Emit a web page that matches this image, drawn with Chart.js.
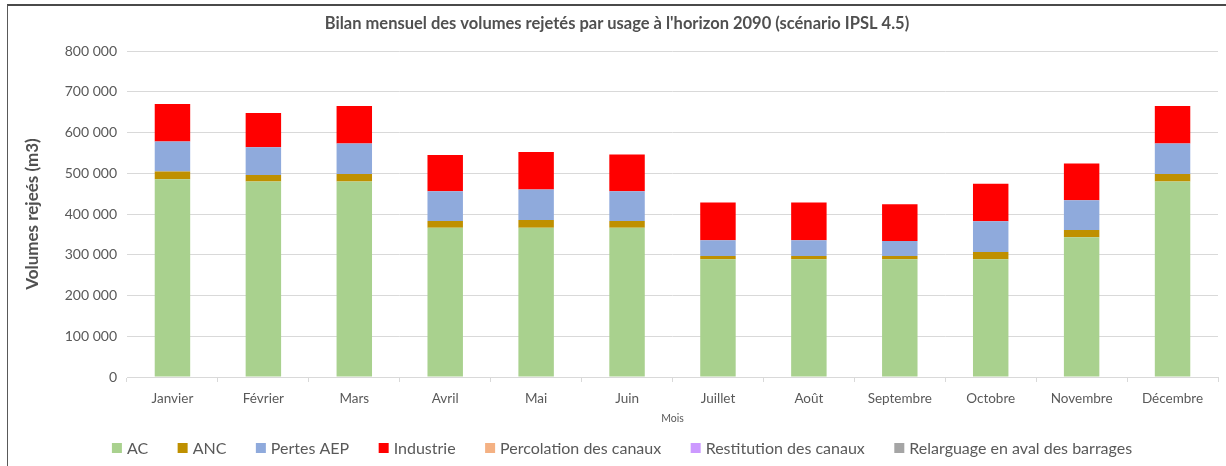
<!DOCTYPE html>
<html>
<head>
<meta charset="utf-8">
<script src="https://cdn.jsdelivr.net/npm/chart.js"></script>
<style>
  html,body{margin:0;padding:0;background:#fff}
  #wrap{position:relative;width:1226px;height:466px;overflow:hidden}
  #frame{position:absolute;left:7px;top:4px;width:1230px;height:470px;border-left:1px solid #595959;border-top:2px solid #4a4a4a;pointer-events:none}
  canvas{position:absolute;left:0;top:0}
</style>
</head>
<body>
<div id="wrap">
  <canvas id="c" width="1226" height="466"></canvas>
  <div id="frame"></div>
</div>
<script>
/* =====  data  ===== */
const months = ['Janvier','Février','Mars','Avril','Mai','Juin','Juillet','Août','Septembre','Octobre','Novembre','Décembre'];
const ac          = [485000, 480000, 480000, 366000, 366000, 366000, 289000, 289000, 289000, 289000, 343000, 480000];
const anc         = [19000, 16000, 18000, 17000, 19000, 17000, 8000, 8000, 8000, 18000, 18000, 18000];
const pertesAEP   = [74000, 68000, 75000, 73000, 75000, 73000, 38500, 38500, 37000, 75000, 73000, 75000];
const industrie   = [92000, 84000, 92000, 89000, 92000, 90000, 92500, 92500, 90000, 92500, 90000, 92000];
const percolation = [0, 0, 0, 0, 0, 0, 0, 0, 0, 0, 0, 0];
const restitution = [0, 0, 0, 0, 0, 0, 0, 0, 0, 0, 0, 0];
const relarguage  = [0, 0, 0, 0, 0, 0, 0, 0, 0, 0, 0, 0];

const FONT = 'Lato, "Open Sans", sans-serif';
const GREY = '#595959';

const ds = (label, data, color) => ({ label, data, backgroundColor: color, borderWidth: 0, categoryPercentage: 1, barPercentage: 0.39 });

/*  legend drawn by hand: Excel-style spacing (small box/text gap, wide item gap)  */
const bottomLegend = {
  id: 'bottomLegend',
  afterDraw(chart) {
    const ctx = chart.ctx, sets = chart.data.datasets;
    const box = 10, gapText = 5, gapItem = 29.5, cy = 448;
    ctx.save();
    ctx.font = '16px ' + FONT;
    ctx.textBaseline = 'middle';
    const widths = sets.map(d => ctx.measureText(d.label).width);
    const total = widths.reduce((a, w) => a + box + gapText + w, 0) + gapItem * (sets.length - 1);
    let x = 622 - total / 2;
    sets.forEach((d, i) => {
      ctx.fillStyle = d.backgroundColor;
      ctx.fillRect(x, cy - box / 2, box, box);
      ctx.fillStyle = GREY;
      ctx.fillText(d.label, x + box + gapText, cy + 1);
      x += box + gapText + widths[i] + gapItem;
    });
    ctx.restore();
  }
};

new Chart(document.getElementById('c'), {
  type: 'bar',
  data: {
    labels: months,
    datasets: [
      ds('AC', ac, '#a9d18e'),
      ds('ANC', anc, '#bf9000'),
      ds('Pertes AEP', pertesAEP, '#8faadc'),
      ds('Industrie', industrie, '#ff0000'),
      ds('Percolation des canaux', percolation, '#f4b183'),
      ds('Restitution des canaux', restitution, '#cc99ff'),
      ds('Relarguage en aval des barrages', relarguage, '#a5a5a5')
    ]
  },
  plugins: [bottomLegend],
  options: {
    responsive: false,
    animation: false,
    layout: { padding: { left: 16, right: 8, top: 14, bottom: 38 } },
    plugins: {
      title: {
        display: true,
        text: "Bilan mensuel des volumes rejetés par usage à l'horizon 2090 (scénario IPSL 4.5)",
        color: '#505050',
        font: { family: FONT, size: 16.5, weight: 'bold' },
        padding: { top: 0, bottom: 17.2 }
      },
      legend: { display: false },
      tooltip: { enabled: false }
    },
    scales: {
      x: {
        stacked: true,
        grid: { display: true, drawOnChartArea: false, drawTicks: true, tickLength: 5, offset: true, color: '#d9d9d9' },
        border: { color: '#d9d9d9' },
        ticks: { color: GREY, font: { family: FONT, size: 13.5 }, padding: 9, maxRotation: 0 },
        title: { display: true, text: 'Mois', color: GREY, font: { family: FONT, size: 10.5 }, padding: { top: 2, bottom: 3 } },
        afterFit: s => { s.height = 51; }
      },
      y: {
        stacked: true,
        min: 0, max: 800000,
        grid: { color: '#d9d9d9', drawTicks: false },
        border: { display: false },
        ticks: {
          stepSize: 100000, color: GREY, padding: 10,
          font: { family: FONT, size: 14 },
          callback: v => String(v).replace(/\B(?=(\d{3})+(?!\d))/g, ' ')
        },
        title: { display: true, text: 'Volumes rejeés (m3)', color: '#505050', font: { family: FONT, size: 17, weight: 'bold' }, padding: { top: 6, bottom: 0 } },
        afterFit: s => { s.width = 111; }
      }
    }
  }
});
</script>
</body>
</html>
